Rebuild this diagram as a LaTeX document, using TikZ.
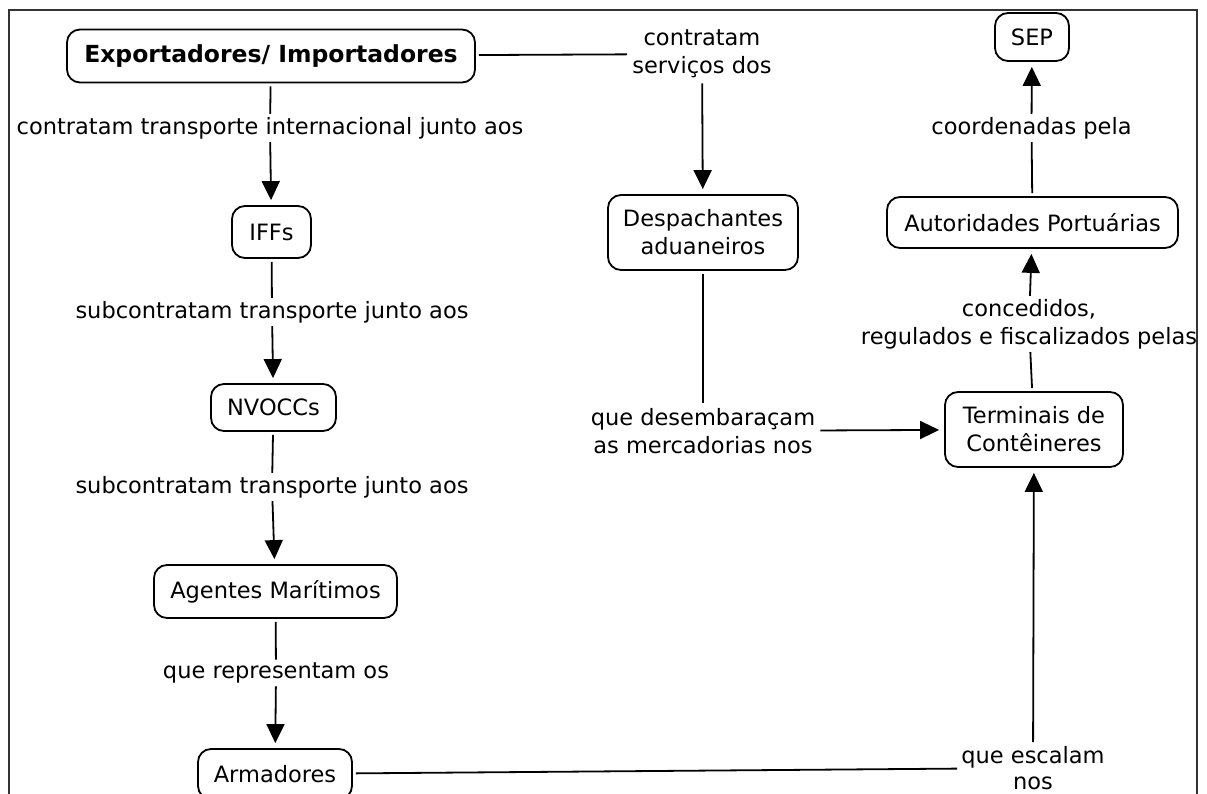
\documentclass[tikz,border=0pt]{standalone}
\usepackage{fontspec}
\setmainfont{DejaVu Sans}
\usetikzlibrary{arrows.meta}
\newcommand\mapfont{\fontsize{22.5}{28}\selectfont}
\tikzset{
  concept/.style={draw=black, line width=1.8pt, rounded corners=13pt,
    align=center, inner sep=0pt, font=\mapfont},
  link/.style={align=center, inner sep=3pt, font=\mapfont},
  conn/.style={line width=1.8pt, shorten <=3pt},
  arr/.style={line width=1.8pt, -{Triangle[length=19pt,width=18pt]}, shorten >=5pt},
  frame/.style={draw=black!80, line width=1.6pt},
}
\begin{document}
\begin{tikzpicture}[x=1pt,y=-1pt]
  \clip (0,0) rectangle (1207,794);
  \fill[white] (0,0) rectangle (1207,794);
  \draw[frame] (9,10) rectangle (1197,830);

  % concepts
  \node[concept, minimum width=408pt, minimum height=53pt,
        font=\fontsize{23.5}{28}\selectfont\bfseries]
    (exp) at (271,56) {Exportadores/ Importadores};
  \node[concept, minimum width=79pt, minimum height=52pt] (iffs) at (271.5,232) {IFFs};
  \node[concept, minimum width=125pt, minimum height=47pt] (nvo) at (273.5,407.5) {NVOCCs};
  \node[concept, minimum width=243pt, minimum height=53pt] (agt) at (275.5,591.5) {Agentes Marítimos};
  \node[concept, minimum width=154pt, minimum height=50pt] (arm) at (275,774) {Armadores};
  \node[concept, minimum width=190pt, minimum height=75pt] (desp) at (703,232.5) {Despachantes\\aduaneiros};
  \node[concept, minimum width=178pt, minimum height=75pt] (term) at (1034,429.5) {Terminais de\\Contêineres};
  \node[concept, minimum width=291pt, minimum height=51pt] (aut) at (1032.5,222.5) {Autoridades Portuárias};
  \node[concept, minimum width=74pt, minimum height=48pt] (sep) at (1032,37) {SEP};

  % linking phrases
  \node[link] (l1) at (270,128) {contratam transporte internacional junto aos};
  \node[link] (l2) at (272,312) {subcontratam transporte junto aos};
  \node[link] (l3) at (272,487) {subcontratam transporte junto aos};
  \node[link] (l4) at (276,673) {que representam os};
  \node[link, inner sep=5pt] (l5) at (702,54) {contratam\\serviços dos};
  \node[link, inner sep=5pt] (l6) at (703,431) {que desembaraçam\\as mercadorias nos};
  \node[link, inner sep=4pt, font=\fontsize{22.5}{26}\selectfont] (l7) at (1033,768) {que escalam\\nos};
  \node[link] (l8) at (1029,324) {concedidos,\\regulados e fiscalizados pelas};
  \node[link] (l9) at (1031.5,128) {coordenadas pela};

  % connectors
  \draw[conn] (exp) -- (l1);  \draw[arr] (l1) -- (iffs);
  \draw[conn] (iffs) -- (l2); \draw[arr] (l2) -- (nvo);
  \draw[conn] (nvo) -- (l3);  \draw[arr] (l3) -- (agt);
  \draw[conn] (agt) -- (l4);  \draw[arr] (l4) -- (arm);
  \draw[conn] (exp) -- (l5);  \draw[arr] (l5) -- (desp);
  \draw[conn] (desp) -- (l6); \draw[arr] (l6) -- (term);
  \draw[conn] (arm) -- (l7);  \draw[arr] (l7) -- (term);
  \draw[conn] (term) -- (l8); \draw[arr] (l8) -- (aut);
  \draw[conn] (aut) -- (l9);  \draw[arr] (l9) -- (sep);
\end{tikzpicture}
\end{document}
